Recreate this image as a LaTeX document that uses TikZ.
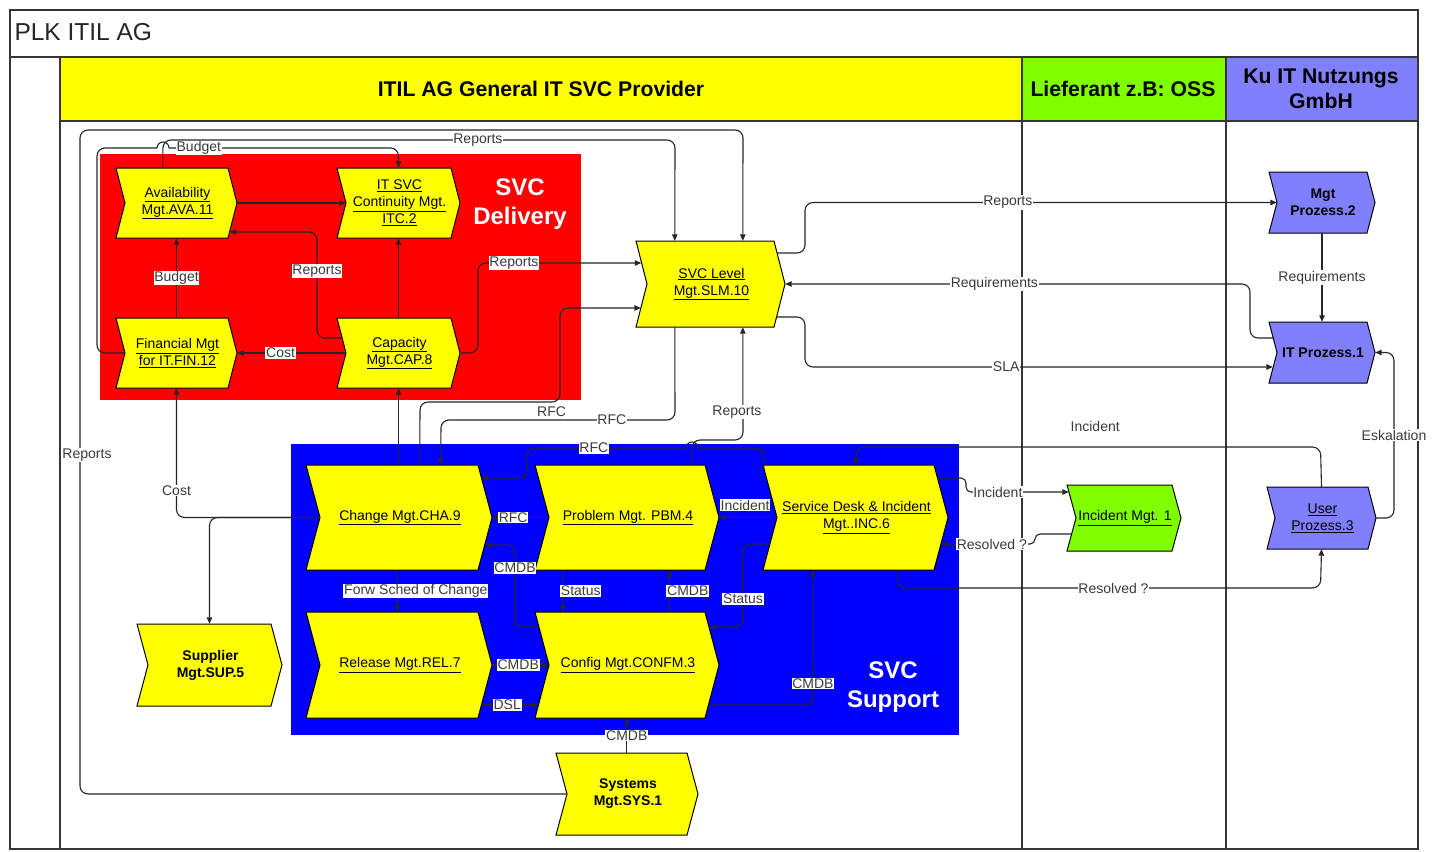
\documentclass[tikz,border=0pt]{standalone}
\usepackage{fontspec}
\setmainfont{Liberation Sans}
\usetikzlibrary{arrows.meta,calc}
\definecolor{ylw}{HTML}{FFFF00}
\definecolor{grn}{HTML}{80FF00}
\definecolor{prp}{HTML}{8080FF}
\definecolor{rd}{HTML}{FF0000}
\definecolor{bl}{HTML}{0000FF}
\definecolor{ln}{HTML}{262626}
\definecolor{lbl}{HTML}{3A3A3A}
\definecolor{frm}{HTML}{353535}
\newcommand\ulx[1]{\underline{#1}}
% #1 name, #2 x0, #3 y0, #4 tip x, #5 y1, #6 style, #7 depth, #8 text
\newcommand\chev[8]{%
  \path[#6] (#2,#3) -- ({#4-#7},#3) -- (#4,{(#3+#5)/2}) -- ({#4-#7},#5) -- (#2,#5) -- ({#2+#7},{(#3+#5)/2}) -- cycle;
  \node[chevtext, minimum width={(#4-#2)*1pt}, minimum height={(#5-#3)*1pt}] (#1) at ({(#2+#4)/2+1},{(#3+#5)/2}) {#8};%
}
\tikzset{
  chevy/.style={fill=ylw, draw=black, line width=1pt},
  chevg/.style={fill=grn, draw=black, line width=1pt},
  chevp/.style={fill=prp, draw=black, line width=1pt},
  chevtext/.style={inner sep=0pt, align=center, text=black, font=\fontsize{14}{17}\selectfont},
  seg/.style={draw=ln, line width=1.1pt, rounded corners=8pt},
  conn/.style={seg, -{Triangle[length=6.5pt,width=5.5pt]}},
  jump/.style={draw=ln, line width=1.1pt, sharp corners},
  lab/.style={fill=white, text=lbl, inner sep=0.8pt, sharp corners, font=\fontsize{14}{15}\selectfont},
  hdr/.style={font=\bfseries\fontsize{21.2}{25}\selectfont, text=black, align=center},
  area/.style={font=\bfseries\fontsize{24}{29}\selectfont, text=white, align=center},
  frame/.style={draw=frm, line width=1.8pt},
}
\begin{document}
\begin{tikzpicture}[x=1pt,y=-1pt]
\useasboundingbox (0,0) rectangle (1437,851);
\fill[white] (0,0) rectangle (1437,851);
% header cells
\fill[ylw] (60,57) rectangle (1022,121);
\fill[grn] (1022,57) rectangle (1226,121);
\fill[prp] (1226,57) rectangle (1418,121);
\draw[frame] (10,10) rectangle (1418,849);
\draw[frame] (10,57) -- (1418,57);
\draw[frame] (60,121) -- (1418,121);
\draw[frame] (60,57) -- (60,849);
\draw[frame] (1022,57) -- (1022,849);
\draw[frame] (1226,57) -- (1226,849);
\node[anchor=west, font=\fontsize{24.5}{28}\selectfont, text=black!85] (ttl) at (11,32) {PLK ITIL AG};
\node[hdr] (h1) at (541,89) {ITIL AG General IT SVC Provider};
\node[hdr] (h2) at (1123,89) {Lieferant z.B: OSS};
\node[hdr] (h3) at (1321,89) {Ku IT Nutzungs\\GmbH};
% areas
\fill[rd] (100,154) rectangle (581,400);
\fill[bl] (291,444) rectangle (959,735);
\node[area] (del) at (520,204) {SVC\\Delivery};
\node[area] (supp) at (893,687) {SVC\\Support};
% nodes
\chev{ava}{116}{168}{237}{238}{chevy}{9}{\ulx{Availability}\\\ulx{Mgt.AVA.11}}
\chev{itc}{337}{168}{460}{238}{chevy}{9}{\ulx{IT SVC}\\\ulx{Continuity Mgt.}\\\ulx{ITC.2}}
\chev{fin}{116}{318}{237}{388}{chevy}{9}{\ulx{Financial Mgt}\\\ulx{for IT.FIN.12}}
\chev{cap}{337}{318}{460}{388}{chevy}{9}{\ulx{Capacity}\\\ulx{Mgt.CAP.8}}
\chev{svc}{636}{241}{785}{327}{chevy}{11}{\ulx{SVC Level}\\\ulx{Mgt.SLM.10}}
\chev{cha}{306}{465}{492}{570}{chevy}{14}{\ulx{Change Mgt.CHA.9}}
\chev{pbm}{535}{465}{719}{570}{chevy}{14}{\ulx{Problem Mgt. PBM.4}}
\chev{inc}{763}{465}{948}{570}{chevy}{14}{\ulx{Service Desk \& Incident}\\\ulx{Mgt..INC.6}}
\chev{rel}{306}{612}{492}{718}{chevy}{14}{\ulx{Release Mgt.REL.7}}
\chev{conf}{535}{612}{719}{718}{chevy}{14}{\ulx{Config Mgt.CONFM.3}}
\chev{sup}{137}{624}{282}{706}{chevy}{11}{\textbf{Supplier}\\\textbf{Mgt.SUP.5}}
\chev{sys}{556}{753}{698}{835}{chevy}{11}{\textbf{Systems}\\\textbf{Mgt.SYS.1}}
\chev{mgt}{1269}{172}{1375}{233}{chevp}{8}{\textbf{Mgt}\\\textbf{Prozess.2}}
\chev{itp}{1269}{322}{1375}{383}{chevp}{8}{\textbf{IT Prozess.1}}
\chev{usr}{1267}{487}{1376}{549}{chevp}{8}{\ulx{User}\\\ulx{Prozess.3}}
\chev{incm}{1067}{485}{1181}{551}{chevg}{9}{\ulx{Incident Mgt. 1}}
% jump points
\coordinate (jb1) at (157,148);
\coordinate (jb2) at (169,148);
\coordinate (jr1) at (698,448);
\coordinate (jr2) at (686,448);
% connectors
\draw[conn] ($(sys.west)+(10,0)$) -- (80,794) -- node[lab,pos=0.51,xshift=7pt]{Reports} (80,130) -- (743,130) -- ($(svc.north west)+(106,0)$);
\draw[conn] ($(ava.north west)+(46,0)$) -- (163,140) -- node[lab,pos=0.615]{Reports} (675,140) -- ($(svc.north west)+(38,0)$);
\draw[seg] ($(fin.west)+(8,0)$) -- (97,353) -- (97,148) -- (jb1);
\draw[jump] (jb1) arc[start angle=180,end angle=360,radius=6];
\draw[conn] (jb2) -- node[lab,pos=0.13]{Budget} (398.5,148) -- ($(itc.north)+(-1,0)$);
\draw[conn] ($(fin.north)+(-1,0)$) -- node[lab]{Budget} ($(ava.south)+(-1,0)$);
\draw[conn] ($(ava.east)+(-1,0)$) -- ($(itc.west)+(8,0)$);
\draw[conn] ($(cap.north)+(-1,0)$) -- ($(itc.south)+(-1,0)$);
\draw[conn] ($(cap.west)+(4,-15)$) -- (317,338) -- node[lab,pos=0.63]{Reports} (317,232) -- ($(ava.east)+(-8.5,29)$);
\draw[conn] ($(cap.west)+(8,0)$) -- node[lab,pos=0.6]{Cost} ($(fin.east)+(-1,0)$);
\draw[conn] ($(cap.east)+(-1,0)$) -- (478,353) -- (478,263) -- node[lab,pos=0.22]{Reports} ($(svc.west)+(4.5,-21)$);
\draw[conn] ($(cap.south |- cha.north)+(-1,0)$) -- ($(cap.south)+(-1,0)$);
\draw[conn] ($(cha.north west)+(113,0)$) -- (420,402) -- node[lab,pos=0.94,yshift=-10pt]{RFC} (560,402) -- (560,308) -- ($(svc.west)+(4,24)$);
\draw[conn] ($(svc.south west)+(38,0)$) -- (675,420) -- node[lab,pos=0.27]{RFC} (441,420) -- ($(cha.north west)+(134,0)$);
\draw[conn] ($(pbm.north west)+(156,0)$) -- (692,440) -- (743,440) -- node[lab,pos=0.25,xshift=-6pt]{Reports} ($(svc.south west)+(106,0)$);
\draw[seg] ($(inc.north west)+(0,5)$) -- (764,448) -- (jr1);
\draw[jump] (jr1) arc[start angle=0,end angle=-180,radius=6];
\draw[conn] (jr2) -- node[lab,pos=0.58]{RFC} (527,448) -- (527,478) -- ($(cha.east)+(-11.5,-39.5)$);
\draw[conn] ($(inc.west)+(13,0)$) -- node[lab,above=6pt,pos=0.55]{Incident} ($(pbm.east)+(-1,0)$);
\draw[conn] ($(pbm.west)+(13,0)$) -- node[lab,pos=0.63]{RFC} ($(cha.east)+(-1,0)$);
\draw[conn] ($(conf.west)+(3,-38)$) -- (515,627) -- node[lab,pos=0.72]{CMDB} (515,545) -- ($(cha.east)+(-8,27.5)$);
\draw[conn] ($(cha.south west)+(91,0)$) -- node[lab,xshift=18pt]{Forw Sched of Change} ($(rel.north west)+(91,0)$);
\draw[conn] ($(pbm.south west)+(27,0)$) -- node[lab,xshift=18pt]{Status} ($(conf.north west)+(27,0)$);
\draw[conn] ($(conf.north west)+(134,0)$) -- node[lab,xshift=18pt]{CMDB} ($(pbm.south west)+(134,0)$);
\draw[conn] ($(inc.west)+(6,26.5)$) -- (743,544) -- node[lab,pos=0.66]{Status} (743,627) -- ($(conf.east)+(-11,-38)$);
\draw[conn] ($(conf.east)+(-11.5,40)$) -- (813,705) -- node[lab,pos=0.16]{CMDB} ($(inc.south west)+(49,0)$);
\draw[conn] ($(rel.east)+(-1,0)$) -- node[lab,pos=0.46]{CMDB} ($(conf.west)+(13,0)$);
\draw[conn] ($(rel.east)+(-11.5,40)$) -- node[lab,pos=0.45]{DSL} ($(conf.west)+(2.5,40)$);
\draw[conn] ($(sys.north west)+(70,0)$) -- node[lab]{CMDB} ($(conf.south west)+(91,0)$);
\draw[conn] ($(cha.west)+(13,0)$) -- (176.5,517.5) -- node[lab,pos=0.21]{Cost} ($(fin.south)+(-1,0)$);
\draw[conn] ($(cha.west)+(13,0)$) -- ($(sup.north |- cha.west)+(-1,0)$) -- ($(sup.north)+(-1,0)$);
\draw[conn] ($(svc.east)+(-9,-31)$) -- (805,253) -- (805,202.5) -- node[lab,pos=0.43]{Reports} ($(mgt.west)+(7,0)$);
\draw[conn] ($(itp.west)+(3,-14.5)$) -- (1250,338) -- (1250,284) -- node[lab,pos=0.55]{Requirements} ($(svc.east)+(-1,0)$);
\draw[conn] ($(svc.east)+(-9.5,33)$) -- (805,317) -- (805,367) -- node[lab,pos=0.43]{SLA} ($(itp.west)+(3,14.5)$);
\draw[conn] ($(mgt.south)+(-1,0)$) -- node[lab]{Requirements} ($(itp.north)+(-1,0)$);
\draw[conn] ($(usr.east)+(-1,0)$) -- (1394,518) -- node[lab]{Eskalation} (1394,352.5) -- ($(itp.east)+(-1,0)$);
\draw[conn] ($(usr.north)+(-1,0)$) -- (1320.5,447) -- node[lab,pos=0.485,above=14pt]{Incident} (856,447) -- ($(inc.north west)+(92,0)$);
\draw[conn, rounded corners=5pt] ($(inc.east)+(-11.5,-39.5)$) -- (966,478) -- (966,492) -- node[lab,pos=0.31]{Incident} ($(incm.west)+(1,-26)$);
\draw[conn, rounded corners=5pt] ($(incm.west)+(3.5,16)$) -- (1035,534) -- (1035,544) -- node[lab,pos=0.46]{Resolved ?} ($(inc.east)+(-8,26.5)$);
\draw[conn] ($(inc.south west)+(134,0)$) -- (898,588) -- node[lab,pos=0.51]{Resolved ?} (1320.5,588) -- ($(usr.south)+(-1,0)$);
\end{tikzpicture}
\end{document}
